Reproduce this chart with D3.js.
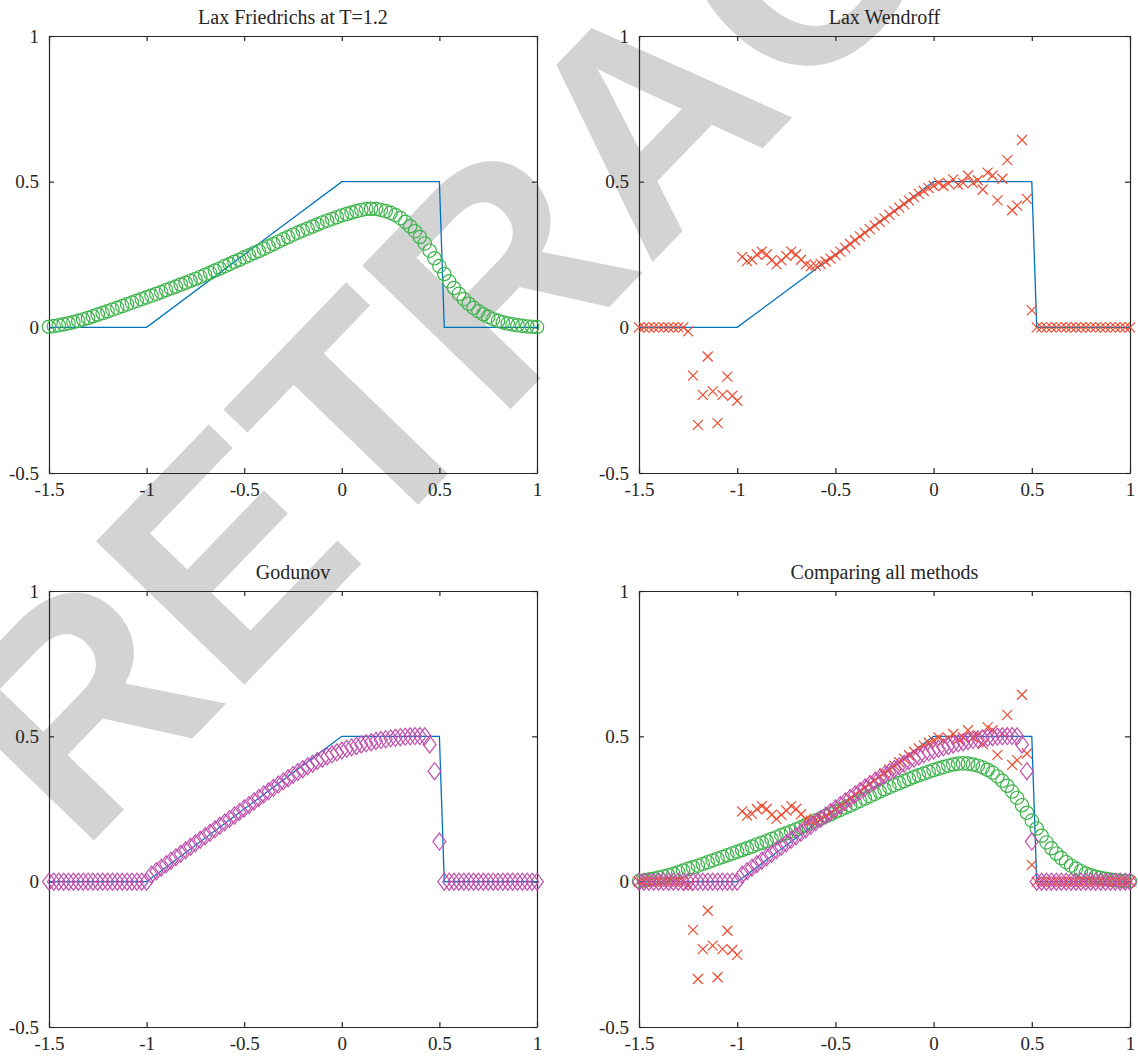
<!DOCTYPE html>
<html>
<head>
<meta charset="utf-8">
<script src="https://cdn.jsdelivr.net/npm/d3@7"></script>
<style>
    body { margin: 0; background: #fff; }
    svg { display: block; }
    .tick text { font-family: "Liberation Serif", "Times New Roman", serif; font-size: 19px; fill: #262626; }
    .domain, .tick line { stroke: #262626; stroke-width: 1.2; }
    .title { font-family: "Liberation Serif", "Times New Roman", serif; font-size: 20px; fill: #262626; text-anchor: middle; }
</style>
</head>
<body>
<div class="container"></div>
<script>
// grid points
const xGrid = [
    -1.5, -1.475, -1.45, -1.425, -1.4, -1.375, -1.35, -1.325, -1.3, -1.275,
    -1.25, -1.225, -1.2, -1.175, -1.15, -1.125, -1.1, -1.075, -1.05, -1.025,
    -1, -0.975, -0.95, -0.925, -0.9, -0.875, -0.85, -0.825, -0.8, -0.775,
    -0.75, -0.725, -0.7, -0.675, -0.65, -0.625, -0.6, -0.575, -0.55, -0.525,
    -0.5, -0.475, -0.45, -0.425, -0.4, -0.375, -0.35, -0.325, -0.3, -0.275,
    -0.25, -0.225, -0.2, -0.175, -0.15, -0.125, -0.1, -0.075, -0.05, -0.025,
    0, 0.025, 0.05, 0.075, 0.1, 0.125, 0.15, 0.175, 0.2, 0.225,
    0.25, 0.275, 0.3, 0.325, 0.35, 0.375, 0.4, 0.425, 0.45, 0.475,
    0.5, 0.525, 0.55, 0.575, 0.6, 0.625, 0.65, 0.675, 0.7, 0.725,
    0.75, 0.775, 0.8, 0.825, 0.85, 0.875, 0.9, 0.925, 0.95, 0.975,
    1
];

// exact solution breakpoints
const exactX = [-1.5, -1, 0, 0.5, 0.525, 1];
const exactU = [0, 0, 0.5, 0.5, 0, 0];

const laxFriedrichs = [
    0.002, 0.004, 0.007, 0.010, 0.014, 0.018, 0.022, 0.027, 0.032, 0.038,
    0.044, 0.049, 0.055, 0.061, 0.067, 0.073, 0.079, 0.085, 0.091, 0.097,
    0.103, 0.109, 0.115, 0.121, 0.128, 0.134, 0.140, 0.147, 0.153, 0.160,
    0.166, 0.173, 0.180, 0.187, 0.195, 0.202, 0.210, 0.217, 0.225, 0.232,
    0.240, 0.247, 0.255, 0.262, 0.270, 0.278, 0.286, 0.294, 0.302, 0.310,
    0.318, 0.325, 0.332, 0.339, 0.346, 0.353, 0.360, 0.366, 0.372, 0.378,
    0.384, 0.389, 0.394, 0.399, 0.403, 0.406, 0.407, 0.406, 0.403, 0.399,
    0.393, 0.385, 0.375, 0.362, 0.347, 0.330, 0.310, 0.288, 0.263, 0.237,
    0.210, 0.183, 0.158, 0.135, 0.115, 0.097, 0.081, 0.067, 0.055, 0.045,
    0.036, 0.028, 0.022, 0.017, 0.013, 0.010, 0.007, 0.005, 0.003, 0.002,
    0.001
];

const laxWendroff = [
    0, 0, 0, 0, 0, 0, 0, 0, 0, 0,
    -0.014, -0.166, -0.335, -0.232, -0.100, -0.220, -0.329, -0.232, -0.169, -0.235,
    -0.252, 0.242, 0.227, 0.233, 0.250, 0.260, 0.250, 0.230, 0.216, 0.230,
    0.245, 0.260, 0.250, 0.232, 0.216, 0.210, 0.212, 0.218, 0.226, 0.236,
    0.248, 0.260, 0.273, 0.286, 0.299, 0.312, 0.324, 0.337, 0.349, 0.362,
    0.374, 0.386, 0.399, 0.411, 0.423, 0.435, 0.447, 0.458, 0.468, 0.478,
    0.486, 0.496, 0.485, 0.494, 0.508, 0.490, 0.496, 0.521, 0.496, 0.505,
    0.473, 0.531, 0.521, 0.436, 0.510, 0.574, 0.402, 0.418, 0.643, 0.441,
    0.058, 0, 0, 0, 0, 0, 0, 0, 0, 0,
    0, 0, 0, 0, 0, 0, 0, 0, 0, 0,
    0
];

const godunov = [
    0, 0, 0, 0, 0, 0, 0, 0, 0, 0,
    0, 0, 0, 0, 0, 0, 0, 0, 0, 0,
    0, 0.024, 0.036, 0.048, 0.060, 0.072, 0.084, 0.096, 0.108, 0.120,
    0.132, 0.144, 0.156, 0.168, 0.180, 0.192, 0.204, 0.216, 0.228, 0.240,
    0.252, 0.264, 0.276, 0.288, 0.300, 0.311, 0.323, 0.334, 0.345, 0.356,
    0.367, 0.377, 0.387, 0.397, 0.406, 0.415, 0.423, 0.431, 0.438, 0.445,
    0.451, 0.457, 0.462, 0.467, 0.472, 0.476, 0.480, 0.484, 0.487, 0.490,
    0.493, 0.495, 0.497, 0.499, 0.500, 0.501, 0.501, 0.500, 0.472, 0.380,
    0.138, 0, 0, 0, 0, 0, 0, 0, 0, 0,
    0, 0, 0, 0, 0, 0, 0, 0, 0, 0,
    0
];

const xTicks = [-1.5, -1, -0.5, 0, 0.5, 1];
const yTicks = [-0.5, 0, 0.5, 1];
const titles = ['Lax Friedrichs at T=1.2', 'Lax Wendroff', 'Godunov', 'Comparing all methods'];
const panelSeries = [['lf'], ['lw'], ['god'], ['lf', 'lw', 'god']];

const WIDTH = 1138;
const HEIGHT = 1058;
const BLUE = '#0072bd';
const GREEN = '#3cb44b';
const RED = '#ef4b30';
const MAGENTA = '#c04fae';

const boxes = [
    {x0: 49, x1: 537, y0: 36, y1: 473},
    {x0: 639, x1: 1130, y0: 36, y1: 473},
    {x0: 49, x1: 537, y0: 591, y1: 1027},
    {x0: 639, x1: 1130, y0: 591, y1: 1027}
];

let translate = (x, y) => (`translate(${x},${y})`);

let svg = d3.select('.container').append('svg')
    .attr('width', WIDTH)
    .attr('height', HEIGHT);

// retraction stamp sits behind the plots
svg.append('text')
    .text('RETRACTED')
    .attr('transform', 'translate(80,855) rotate(-46)')
    .style('font-family', '"Liberation Sans", Arial, sans-serif')
    .style('font-weight', 'bold')
    .style('font-size', '300px')
    .style('fill', '#d3d3d3');

const markers = {
    lf: {data: laxFriedrichs, color: GREEN, shape: 'circle'},
    lw: {data: laxWendroff, color: RED, shape: 'M-5,-5L5,5M-5,5L5,-5'},
    god: {data: godunov, color: MAGENTA, shape: 'M0,-8.5L6.5,0L0,8.5L-6.5,0Z'}
};

const drawPanel = function (box, title, series) {
    let xScale = d3.scaleLinear().domain([-1.5, 1]).range([box.x0, box.x1]);
    let yScale = d3.scaleLinear().domain([-0.5, 1]).range([box.y1, box.y0]);
    let fmt = d => String(d);

    let g = svg.append('g');

    g.append('g')
        .attr('transform', translate(0, box.y1))
        .call(d3.axisBottom(xScale).tickValues(xTicks).tickFormat(fmt).tickSizeInner(-5).tickSizeOuter(0).tickPadding(10));
    g.append('g')
        .attr('transform', translate(0, box.y0))
        .call(d3.axisTop(xScale).tickValues(xTicks).tickFormat('').tickSizeInner(-5).tickSizeOuter(0));
    g.append('g')
        .attr('transform', translate(box.x0, 0))
        .call(d3.axisLeft(yScale).tickValues(yTicks).tickFormat(fmt).tickSizeInner(-5).tickSizeOuter(0).tickPadding(10));
    g.append('g')
        .attr('transform', translate(box.x1, 0))
        .call(d3.axisRight(yScale).tickValues(yTicks).tickFormat('').tickSizeInner(-5).tickSizeOuter(0));

    g.selectAll('.tick text').attr('font-family', null).attr('font-size', null).attr('fill', null);

    g.append('text')
        .attr('class', 'title')
        .attr('x', (box.x0 + box.x1) / 2)
        .attr('y', box.y0 - 12)
        .text(title);

    let line = d3.line()
        .x((d, i) => xScale(exactX[i]))
        .y(d => yScale(d));

    g.append('path')
        .attr('d', line(exactU))
        .attr('fill', 'none')
        .attr('stroke', BLUE)
        .attr('stroke-width', 1.3);

    series.forEach(key => {
        let m = markers[key];
        let layer = g.append('g')
            .attr('fill', 'none')
            .attr('stroke', m.color)
            .attr('stroke-width', 1.2);
        if (m.shape === 'circle') {
            layer.selectAll('circle')
                .data(m.data)
                .enter().append('circle')
                .attr('cx', (d, i) => xScale(xGrid[i]))
                .attr('cy', d => yScale(d))
                .attr('r', 6.7);
        } else {
            layer.selectAll('path')
                .data(m.data)
                .enter().append('path')
                .attr('transform', (d, i) => translate(xScale(xGrid[i]), yScale(d)))
                .attr('d', m.shape);
        }
    });
};

boxes.forEach((b, k) => drawPanel(b, titles[k], panelSeries[k]));
</script>
</body>
</html>
